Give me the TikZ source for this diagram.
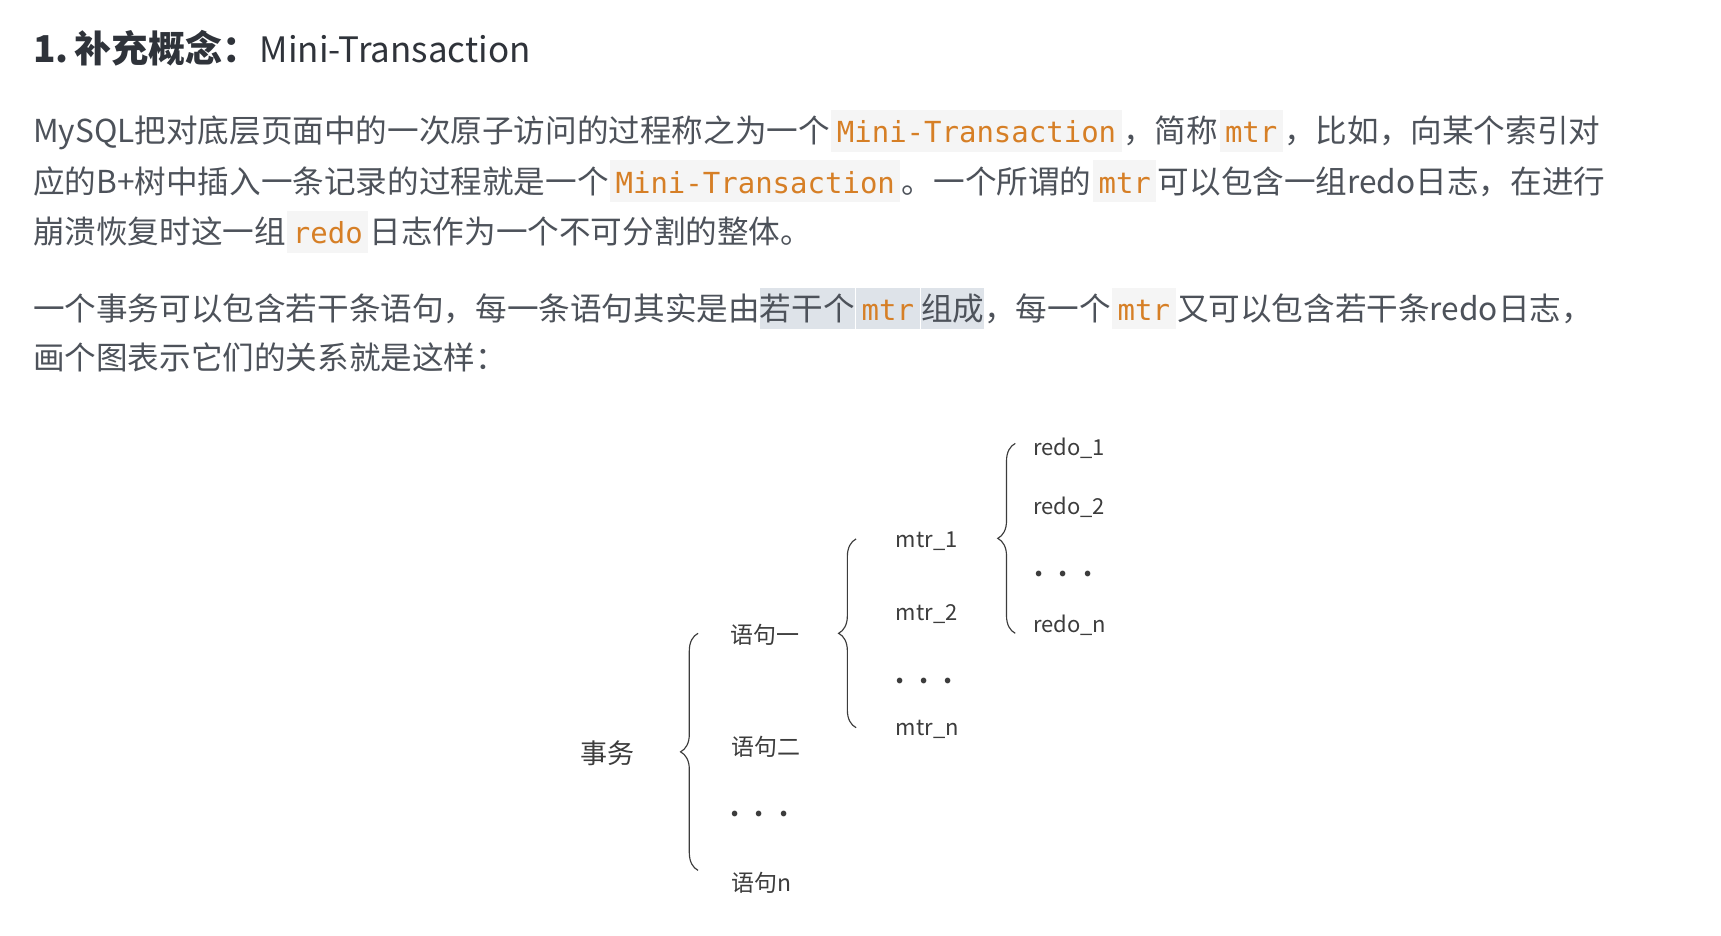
\documentclass[tikz,border=0pt]{standalone}
\usepackage{fontspec}
\setmainfont{Noto Sans CJK SC}
\newfontfamily\codefont{DejaVu Sans Mono}
\usetikzlibrary{decorations.pathreplacing}
\definecolor{txt}{RGB}{77,82,90}
\definecolor{head}{RGB}{47,51,58}
\definecolor{codeor}{RGB}{214,127,38}
\definecolor{codebg}{RGB}{245,245,245}
\definecolor{hlbg}{RGB}{222,227,233}
\definecolor{dia}{RGB}{60,60,60}
\newcommand\cdbox[2]{\hspace{1.5pt}{\setlength\fboxsep{0pt}\colorbox{#1}{\rule[-9pt]{0pt}{42pt}\hspace{5.5pt}{\codefont\fontsize{29pt}{34pt}\selectfont\color{codeor}#2}\hspace{5.5pt}}}\hspace{1.5pt}}
\newcommand\cd[1]{\cdbox{codebg}{#1}}
\newcommand\hlcd[1]{\cdbox{hlbg}{#1}}
\newcommand\hl[1]{{\setlength\fboxsep{0pt}\colorbox{hlbg}{\rule[-9pt]{0pt}{42pt}#1}}}
\tikzset{
  para/.style={anchor=base west, inner sep=0pt, text=txt, font=\fontsize{31.6pt}{38pt}\selectfont},
  dg/.style={anchor=base west, inner sep=0pt, text=dia, font=\fontsize{23pt}{28pt}\selectfont},
  dgl/.style={dg, font=\fontsize{22pt}{27pt}\selectfont},
  dots/.style={anchor=center, inner sep=0pt, text=dia, font=\fontsize{26pt}{30pt}\selectfont\bfseries},
  brc/.style={draw=dia, line width=1.15pt, decorate, decoration={brace, amplitude=17.5pt}}
}
\begin{document}
\begin{tikzpicture}[x=1.0976pt,y=-1.0976pt]
\useasboundingbox[fill=white] (0,0) rectangle (1568,852);
% heading
\node[anchor=base west, inner sep=0pt, text=head, font=\fontsize{37pt}{44pt}\selectfont] (h) at (30,56.5) {\textbf{1.\hspace{6pt}补充概念：}{\fontsize{35pt}{42pt}\selectfont Mini-Transaction}};
% paragraph 1
\node[para] (p1) at (30,130) {MySQL把对底层页面中的一次原子访问的过程称之为一个\cd{Mini-Transaction}，简称\cd{mtr}，比如，向某个索引对};
\node[para] (p2) at (30,176) {应的B+树中插入一条记录的过程就是一个\cd{Mini-Transaction}。一个所谓的\cd{mtr}可以包含一组redo日志，在进行};
\node[para] (p3) at (30,222) {崩溃恢复时这一组\cd{redo}日志作为一个不可分割的整体。};
% paragraph 2
\node[para] (q1) at (30,292) {一个事务可以包含若干条语句，每一条语句其实是由\hl{若干个}\hlcd{mtr}\hl{组成}，每一个\cd{mtr}又可以包含若干条redo日志，};
\node[para] (q2) at (30,337) {画个图表示它们的关系就是这样：};
% diagram
\node[dg, font=\fontsize{27pt}{32pt}\selectfont] (sw) at (529,696) {事务};
\node[dg] (s1) at (665,586) {语句一};
\node[dg] (s2) at (666,688) {语句二};
\node[dots] (sd) at (692,742) {.\hspace{15pt}.\hspace{15pt}.};
\node[dg] (sn) at (666,812) {语句n};
\node[dgl] (m1) at (816,499) {mtr\_1};
\node[dgl] (m2) at (816,565) {mtr\_2};
\node[dots] (md) at (842,620) {.\hspace{15pt}.\hspace{15pt}.};
\node[dgl] (mn) at (816,670) {mtr\_n};
\node[dgl] (r1) at (941,415) {redo\_1};
\node[dgl] (r2) at (941,469) {redo\_2};
\node[dots] (rd) at (969,523) {.\hspace{15pt}.\hspace{15pt}.};
\node[dgl] (rn) at (941,576) {redo\_n};
% braces
\coordinate (b1a) at (636,793); \coordinate (b1b) at (636,577);
\coordinate (b2a) at (780,663); \coordinate (b2b) at (780,491);
\coordinate (b3a) at (925,577); \coordinate (b3b) at (925,404);
\draw[brc] (b1a) -- (b1b);
\draw[brc] (b2a) -- (b2b);
\draw[brc] (b3a) -- (b3b);
\end{tikzpicture}
\end{document}
